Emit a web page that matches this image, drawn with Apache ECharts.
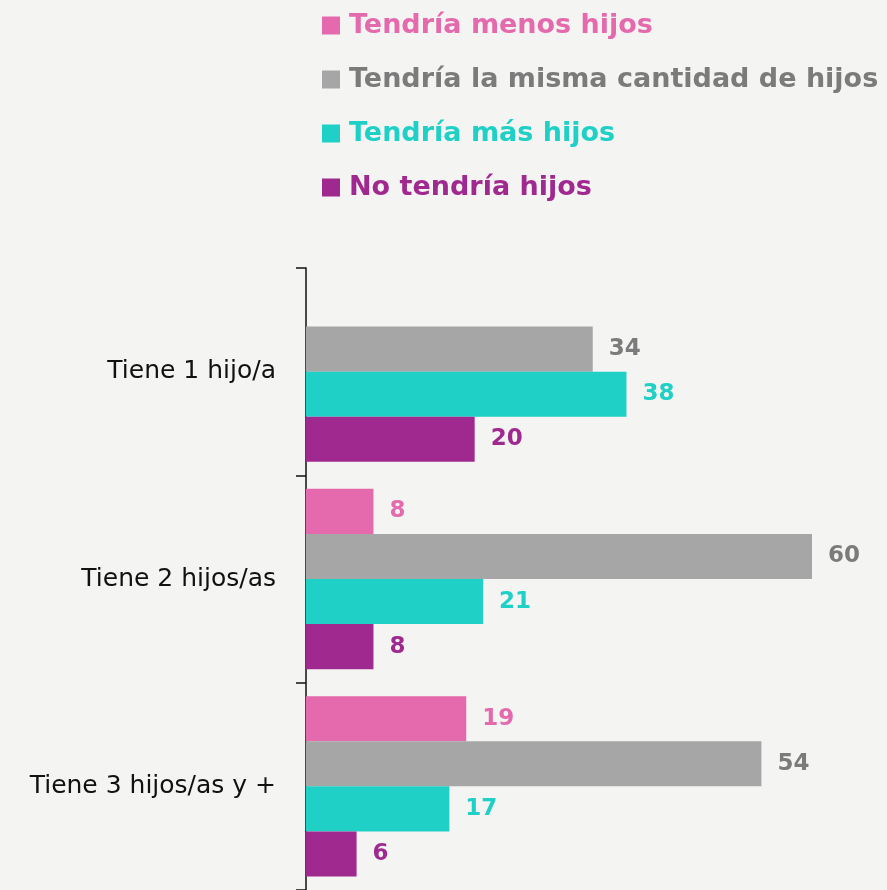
<!DOCTYPE html>
<html>
<head>
<meta charset="utf-8">
<script src="https://cdn.jsdelivr.net/npm/echarts@6.0.0/dist/echarts.min.js"></script>
<style>
  html, body { margin: 0; padding: 0; background: #f4f4f2; }
  #chart { width: 887px; height: 890px; }
</style>
</head>
<body>
<div id="chart"></div>
<script>
var categories = ['Tiene 1 hijo/a', 'Tiene 2 hijos/as', 'Tiene 3 hijos/as y +'];
var seriesNames = ['Tendría menos hijos', 'Tendría la misma cantidad de hijos', 'Tendría más hijos', 'No tendría hijos'];
var menos = [null, 8, 19];
var misma = [34, 60, 54];
var mas = [38, 21, 17];
var ninguno = [20, 8, 6];

var barColors = ['#e46aad', '#a6a6a6', '#1fd0c6', '#a0298f'];
var textColors = ['#e46aad', '#7b7b7b', '#1fd0c6', '#a0298f'];

var dom = document.getElementById('chart');
var myChart = echarts.init(dom);

function makeSeries(i, data) {
    return {
        name: seriesNames[i],
        type: 'bar',
        data: data,
        barGap: '0%',
        barCategoryGap: '13%',
        itemStyle: { color: barColors[i] },
        label: {
            show: true,
            position: 'right',
            distance: 16,
            color: textColors[i],
            fontFamily: 'DejaVu Sans',
            fontWeight: 'bold',
            fontSize: 23
        }
    };
}

var option = {
    backgroundColor: '#f4f4f2',
    animation: false,
    legend: {
        orient: 'vertical',
        left: 317,
        top: 7,
        itemWidth: 18,
        itemHeight: 18,
        itemGap: 27,
        icon: 'rect',
        textStyle: {
            fontFamily: 'DejaVu Sans',
            fontWeight: 'bold',
            fontSize: 27,
            padding: [0, 0, 0, 4]
        },
        data: seriesNames.map(function (n, i) {
            return { name: n, textStyle: { color: textColors[i] } };
        })
    },
    grid: {
        left: 306,
        top: 268,
        width: 506,
        height: 627
    },
    xAxis: {
        type: 'value',
        min: 0,
        max: 60,
        show: false
    },
    yAxis: {
        type: 'category',
        inverse: true,
        data: categories,
        axisLine: { show: true, lineStyle: { color: '#111', width: 1.5 } },
        axisTick: { show: true, length: 10, lineStyle: { color: '#111', width: 1.5 } },
        axisLabel: {
            margin: 30,
            color: '#111',
            fontFamily: 'DejaVu Sans',
            fontSize: 25
        }
    },
    series: [
        makeSeries(0, menos),
        makeSeries(1, misma),
        makeSeries(2, mas),
        makeSeries(3, ninguno)
    ]
};
myChart.setOption(option, true);
</script>
</body>
</html>
